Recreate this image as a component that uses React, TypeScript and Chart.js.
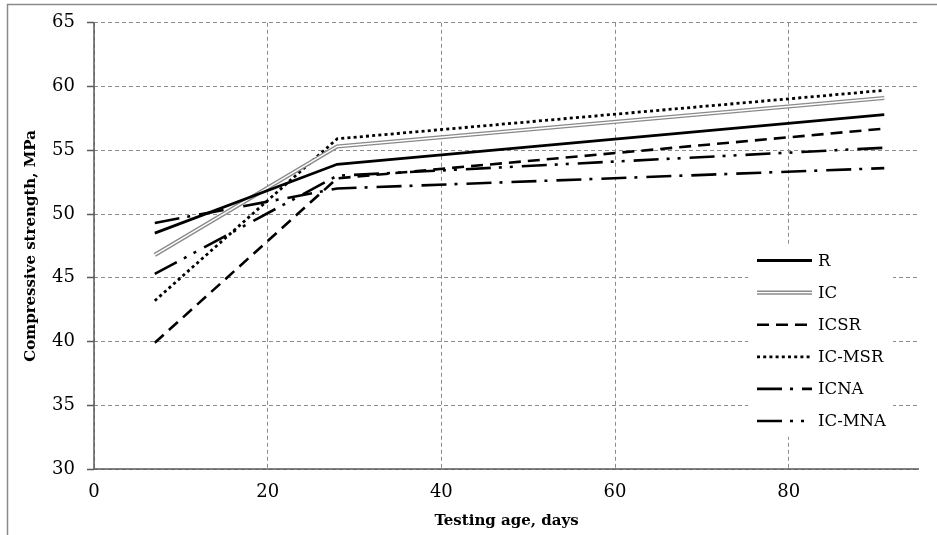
import React, { useEffect, useRef } from 'react';
import { Chart, registerables } from 'chart.js';

Chart.register(...registerables);

// ---- data ----
const AGES = [7, 28, 91];
const SERIES_NAMES = ['R', 'IC', 'ICSR', 'IC-MSR', 'ICNA', 'IC-MNA'];
const R_VALUES = [48.5, 53.9, 57.8];
const IC_VALUES = [46.8, 55.3, 59.1];
const ICSR_VALUES = [39.9, 52.8, 56.7];
const IC_MSR_VALUES = [43.2, 55.9, 59.7];
const ICNA_VALUES = [49.3, 52.0, 53.6];
const IC_MNA_VALUES = [45.3, 53.0, 55.2];
const X_TICKS = [0, 20, 40, 60, 80];
const X_MIN = 0;
const X_MAX = 95;
const Y_MIN = 30;
const Y_MAX = 65;
const Y_STEP = 5;
const X_TITLE = 'Testing age, days';
const Y_TITLE = 'Compressive strength, MPa';

const SERIES_VALUES = [R_VALUES, IC_VALUES, ICSR_VALUES, IC_MSR_VALUES, ICNA_VALUES, IC_MNA_VALUES];

// ---- styles ----
const STYLES = [
  { color: '#000000', width: 2.8, dash: [] as number[] },
  { color: '#8a8a8a', width: 4.2, dash: [] as number[], inner: '#ffffff', innerWidth: 1.4 },
  { color: '#000000', width: 2.6, dash: [12, 7] },
  { color: '#000000', width: 2.8, dash: [3, 3.2] },
  { color: '#000000', width: 2.6, dash: [25, 8, 3, 9] },
  { color: '#000000', width: 2.6, dash: [25, 8, 3, 8, 3, 9] },
];

const SERIF = '"DejaVu Serif", "Liberation Serif", serif';
const AXIS_COLOR = '#5a5a5a';

const axisLinePlugin = {
  id: 'axisLines',
  beforeDatasetsDraw(chart: any) {
    const { ctx, chartArea } = chart;
    ctx.save();
    ctx.setLineDash([]);
    ctx.strokeStyle = AXIS_COLOR;
    ctx.lineWidth = 1.5;
    ctx.beginPath();
    ctx.moveTo(chartArea.left, chartArea.top);
    ctx.lineTo(chartArea.left, chartArea.bottom);
    ctx.lineTo(chartArea.right, chartArea.bottom);
    ctx.stroke();
    ctx.restore();
  },
};

const innerLinePlugin = {
  id: 'innerLine',
  afterDatasetDraw(chart: any, args: any) {
    const ds = chart.data.datasets[args.index];
    if (!ds.innerColor) return;
    const meta = args.meta;
    const pts = meta.data;
    if (!pts || pts.length < 2) return;
    const { ctx, chartArea } = chart;
    ctx.save();
    ctx.beginPath();
    ctx.rect(chartArea.left, chartArea.top, chartArea.right - chartArea.left, chartArea.bottom - chartArea.top);
    ctx.clip();
    ctx.beginPath();
    ctx.moveTo(pts[0].x, pts[0].y);
    for (let i = 1; i < pts.length; i++) ctx.lineTo(pts[i].x, pts[i].y);
    ctx.strokeStyle = ds.innerColor;
    ctx.lineWidth = ds.innerWidth;
    ctx.lineJoin = 'miter';
    ctx.stroke();
    ctx.restore();
  },
};

const frameLegendPlugin = {
  id: 'frameLegend',
  afterDraw(chart: any) {
    const { ctx, chartArea } = chart;
    ctx.save();
    // outer chart frame
    ctx.strokeStyle = '#8a8a8a';
    ctx.lineWidth = 1.5;
    ctx.beginPath();
    ctx.moveTo(7.5, chart.height);
    ctx.lineTo(7.5, 4.5);
    ctx.lineTo(chart.width, 4.5);
    ctx.stroke();

    // legend box
    const boxLeft = chartArea.right - 171;
    const boxTop = chartArea.top + 221;
    ctx.fillStyle = '#ffffff';
    ctx.fillRect(boxLeft, boxTop, 145, 193);

    const x0 = chartArea.right - 162;
    const x1 = x0 + 55;
    const tx = x1 + 6;
    const y0 = chartArea.top + 237.7;
    const gap = 32.1;
    chart.data.datasets.forEach((ds: any, i: number) => {
      const y = y0 + i * gap;
      ctx.save();
      ctx.setLineDash(ds.borderDash || []);
      ctx.strokeStyle = ds.borderColor;
      ctx.lineWidth = ds.borderWidth;
      ctx.beginPath();
      ctx.moveTo(x0, y);
      ctx.lineTo(x1, y);
      ctx.stroke();
      if (ds.innerColor) {
        ctx.setLineDash([]);
        ctx.strokeStyle = ds.innerColor;
        ctx.lineWidth = ds.innerWidth;
        ctx.beginPath();
        ctx.moveTo(x0, y);
        ctx.lineTo(x1, y);
        ctx.stroke();
      }
      ctx.restore();
      ctx.fillStyle = '#000000';
      ctx.font = '16.5px ' + SERIF;
      ctx.textBaseline = 'middle';
      ctx.textAlign = 'left';
      ctx.fillText(ds.label, tx, y + 1);
    });
    ctx.restore();
  },
};

export default function App() {
  const canvasRef = useRef<HTMLCanvasElement | null>(null);

  useEffect(() => {
    document.body.style.margin = '0';
    document.body.style.overflow = 'hidden';
    const canvas = canvasRef.current;
    if (!canvas) return;

    const datasets = SERIES_NAMES.map((name, i) => {
      const st: any = STYLES[i];
      return {
        label: name,
        data: AGES.map((a, j) => ({ x: a, y: SERIES_VALUES[i][j] })),
        borderColor: st.color,
        backgroundColor: st.color,
        borderWidth: st.width,
        borderDash: st.dash,
        innerColor: st.inner,
        innerWidth: st.innerWidth,
        pointRadius: 0,
        pointHoverRadius: 0,
        tension: 0,
        fill: false,
        borderCapStyle: 'butt',
        borderJoinStyle: 'miter',
      };
    });

    const chart = new Chart(canvas, {
      type: 'line',
      data: { datasets: datasets as any },
      options: {
        responsive: false,
        animation: false,
        events: [],
        layout: { padding: { top: 19, right: 18, left: 0, bottom: 0 } },
        plugins: {
          legend: { display: false },
          tooltip: { enabled: false },
          title: { display: false },
        },
        scales: {
          x: {
            type: 'linear',
            min: X_MIN,
            max: X_MAX,
            afterBuildTicks: (scale: any) => {
              scale.ticks = X_TICKS.map((v) => ({ value: v }));
            },
            afterFit: (scale: any) => {
              scale.height = 66;
            },
            ticks: {
              stepSize: 20,
              color: '#000000',
              font: { family: SERIF, size: 18 },
              padding: 13,
              maxRotation: 0,
            },
            grid: {
              color: '#8c8c8c',
              lineWidth: 1,
              drawTicks: false,
            } as any,
            border: { display: false, color: AXIS_COLOR, width: 1.5, dash: [4, 3] } as any,
            title: {
              display: true,
              text: X_TITLE,
              color: '#000000',
              font: { family: SERIF, size: 15, weight: 'bold' },
              padding: { top: 0, bottom: 5 },
            },
          },
          y: {
            type: 'linear',
            min: Y_MIN,
            max: Y_MAX,
            afterFit: (scale: any) => {
              scale.width = 94;
            },
            ticks: {
              stepSize: Y_STEP,
              color: '#000000',
              font: { family: SERIF, size: 18 },
              padding: 12,
            },
            grid: {
              color: '#8c8c8c',
              lineWidth: 1,
              drawTicks: true,
              tickLength: 7,
              tickColor: AXIS_COLOR,
              tickBorderDash: [0, 0],
              tickWidth: 1.5,
            } as any,
            border: { display: false, color: AXIS_COLOR, width: 1.5, dash: [4, 3] } as any,
            title: {
              display: true,
              text: Y_TITLE,
              color: '#000000',
              font: { family: SERIF, size: 15, weight: 'bold' },
              padding: { top: 22, bottom: 0 },
            },
          },
        },
      },
      plugins: [axisLinePlugin, innerLinePlugin, frameLegendPlugin],
    });

    return () => {
      chart.destroy();
    };
  }, []);

  return (
    <div style={{ width: 937, height: 535, background: '#ffffff' }}>
      <canvas ref={canvasRef} width={937} height={535} style={{ display: 'block' }} />
    </div>
  );
}
